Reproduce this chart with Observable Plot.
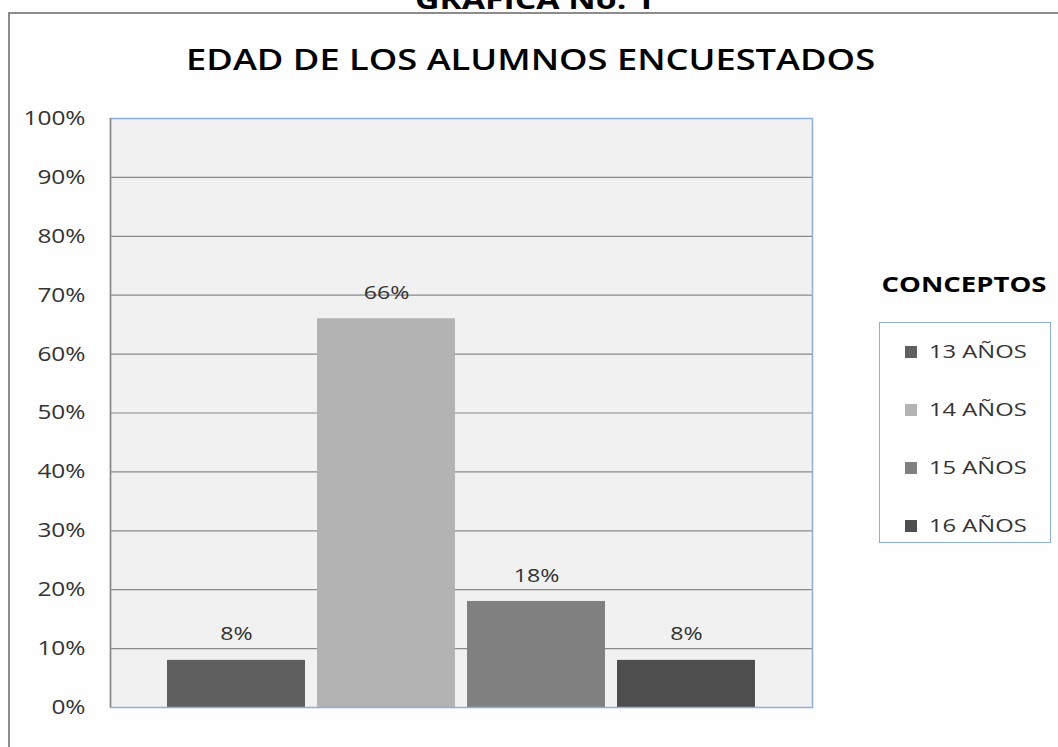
<!DOCTYPE html>
<html>
<head>
<meta charset="utf-8">
<script src="https://cdn.jsdelivr.net/npm/d3@7"></script>
<script src="https://cdn.jsdelivr.net/npm/@observablehq/plot@0.6"></script>
<style>
  html, body { margin: 0; padding: 0; background: #fff; }
  #wrap { position: relative; width: 1058px; height: 747px; overflow: hidden; background: #fefefe; font-family: "Open Sans", sans-serif; }
  #outer { position: absolute; left: 8px; top: 12px; width: 1200px; height: 900px; border: 2px solid #8c8c8c; box-sizing: border-box; }
  #plot { position: absolute; left: 0; top: 0; }
  .stretch { display: inline-block; transform: scaleX(1.25); transform-origin: center; }
  #sup { position: absolute; left: 0; width: 1070px; top: -17px; text-align: center; font-weight: 700; font-size: 27px; color: #000; line-height: 32px; }
  #title { position: absolute; left: 0; width: 1062px; top: 39px; text-align: center; font-weight: 600; font-size: 29px; color: #000; line-height: 40px; }
  #legtitle { position: absolute; left: 878px; width: 172px; top: 268px; text-align: center; font-weight: 700; font-size: 22px; color: #000; line-height: 30px; }
  #legend { position: absolute; left: 879px; top: 322px; width: 172px; height: 221px; border: 1px solid #8eb0d8; box-sizing: border-box; background: #fefefe; }
  .item { position: absolute; left: 25px; font-size: 19px; color: #333; line-height: 26px; white-space: nowrap; }
  .item .lbl { display: inline-block; transform: scaleX(1.25); transform-origin: left center; }
  .sw { display: inline-block; width: 12px; height: 12px; margin-right: 12px; vertical-align: 0px; }
</style>
</head>
<body>
<div id="wrap">
  <div id="outer"></div>
  <div id="plot"></div>
  <div id="sup"><span class="stretch">GRAFICA No. 1</span></div>
  <div id="title"><span class="stretch">EDAD DE LOS ALUMNOS ENCUESTADOS</span></div>
  <div id="legtitle"><span class="stretch">CONCEPTOS</span></div>
  <div id="legend"></div>
</div>
<script>
const categories = ["13 AÑOS", "14 AÑOS", "15 AÑOS", "16 AÑOS"];
const values = [8, 66, 18, 8];
const colors = ["#5f5f5f", "#b3b3b3", "#808080", "#4e4e4e"];
const yTicks = [0, 10, 20, 30, 40, 50, 60, 70, 80, 90, 100];
const gridTicks = [10, 20, 30, 40, 50, 60, 70, 80, 90];

const data = categories.map((c, i) => ({age: c, value: values[i]}));

const leftLine = (index, scales, values, dims) => {
  const l = document.createElementNS("http://www.w3.org/2000/svg", "line");
  l.setAttribute("x1", dims.marginLeft + 0.5);
  l.setAttribute("x2", dims.marginLeft + 0.5);
  l.setAttribute("y1", dims.marginTop);
  l.setAttribute("y2", dims.height - dims.marginBottom);
  l.setAttribute("stroke", "#8a8a8a");
  l.setAttribute("stroke-width", 1.5);
  return l;
};

const chart = Plot.plot({
  width: 1058,
  height: 747,
  marginLeft: 110,
  marginRight: 246,
  marginTop: 118,
  marginBottom: 40,
  style: { background: "transparent", fontFamily: "Open Sans, sans-serif" },
  x: { type: "band", domain: categories, paddingInner: 0.08, paddingOuter: 0.38, axis: null },
  y: { domain: [0, 100], axis: null, label: null },
  color: { domain: categories, range: colors },
  marks: [
    Plot.frame({ fill: "#f1f1f1" }),
    Plot.ruleY(gridTicks, { stroke: "#8a8a8a", strokeWidth: 1.2 }),
    Plot.barY(data, { x: "age", y: "value", fill: "age" }),
    Plot.frame({ stroke: "#8fb1d9", strokeWidth: 1.5 }),
    leftLine,
    Plot.axisY({ ticks: yTicks, tickSize: 0, tickPadding: 25, tickFormat: d => d + "%", fontSize: 20, fill: "#333", anchor: "left", label: null }),
    Plot.text(data, { x: "age", y: "value", text: d => d.value + "%", dy: -26, fontSize: 19, fill: "#333" })
  ]
});
document.getElementById("plot").appendChild(chart);

// widen svg texts to match the reference's wider lettering
chart.querySelectorAll("text").forEach(t => {
  const w = t.getComputedTextLength();
  if (w > 0) {
    t.setAttribute("textLength", (w * 1.22).toFixed(1));
    t.setAttribute("lengthAdjust", "spacingAndGlyphs");
  }
});

const leg = document.getElementById("legend");
categories.forEach((c, i) => {
  const d = document.createElement("div");
  d.className = "item";
  d.style.top = (15 + i * 58) + "px";
  d.innerHTML = `<span class="sw" style="background:${colors[i]}"></span><span class="lbl">${c}</span>`;
  leg.appendChild(d);
});
</script>
</body>
</html>
